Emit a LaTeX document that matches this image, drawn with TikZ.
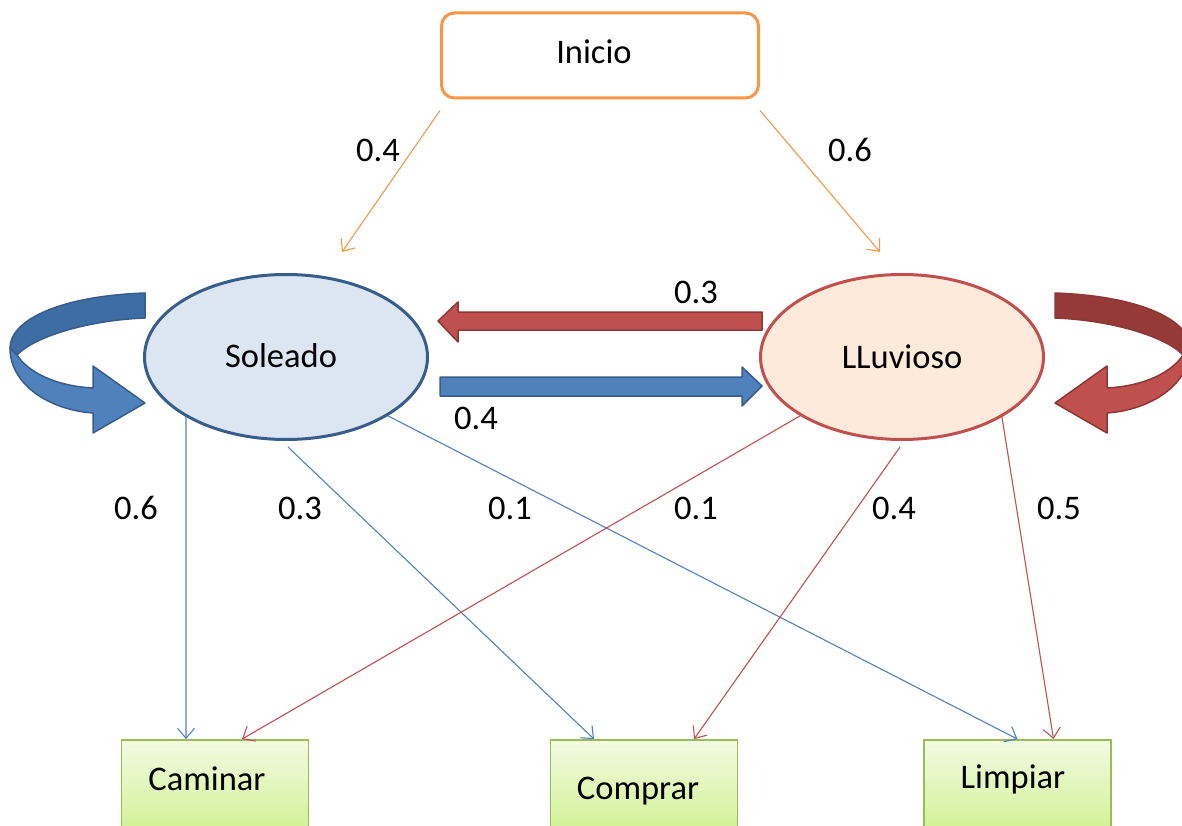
\documentclass[tikz,border=0pt]{standalone}
\usepackage{fontspec}
\setmainfont{Carlito}
\usetikzlibrary{shapes.geometric,arrows.meta}
\definecolor{orangeL}{HTML}{F79646}
\definecolor{blueL}{HTML}{4F81BD}
\definecolor{blueD}{HTML}{385D8A}
\definecolor{blueTop}{HTML}{3E6DA4}
\definecolor{blueFill}{HTML}{DCE6F2}
\definecolor{redL}{HTML}{C0504D}
\definecolor{redD}{HTML}{8C3836}
\definecolor{redTop}{HTML}{963A37}
\definecolor{redFill}{HTML}{FDEADA}
\definecolor{greenS}{HTML}{9BBB59}
\definecolor{greenTop}{HTML}{F3FAE2}
\definecolor{greenBot}{HTML}{D2F296}
\tikzset{
  txt/.style={font=\fontsize{34.5}{40}\selectfont, inner sep=0pt},
  state/.style={ellipse, line width=3pt, minimum width=283pt, minimum height=165pt, inner sep=0pt, txt},
  outbox/.style={draw=greenS, line width=1.8pt, top color=greenTop, bottom color=greenBot,
    minimum width=187pt, minimum height=90pt, inner sep=0pt},
  thin/.style={line width=1.1pt, -{Straight Barb[length=10pt,width=17pt,line width=1.1pt]}},
  blockblue/.style={fill=blueL, draw=blueD, line width=1.5pt, line join=round},
  blockred/.style={fill=redL, draw=redD, line width=1.5pt, line join=round},
}
\begin{document}
\begin{tikzpicture}[x=1pt, y=-1pt]
\useasboundingbox (0,0) rectangle (1182,826);
\clip (0,0) rectangle (1182,826);

% start box
\node[draw=orangeL, line width=3pt, rounded corners=13pt, minimum width=317pt,
      minimum height=85pt, inner sep=0pt, txt] (ini) at (600,55.5) {};
\node[txt] (initxt) at (594,52) {Inicio};

% hidden states
\node[state, draw=blueD, fill=blueFill] (sol) at (286,357) {};
\node[txt] (soltxt) at (281,356) {Soleado};
\node[state, draw=redL, fill=redFill] (llu) at (902,357) {};
\node[txt] (llutxt) at (902,357) {LLuvioso};

% observations
\node[outbox] (cam) at (215,785) {};
\node[outbox] (com) at (644,785) {};
\node[outbox] (lim) at (1017.5,785) {};
\node[txt] (camtxt) at (207,779) {Caminar};
\node[txt] (comtxt) at (638,791) {Comprar};
\node[txt] (limtxt) at (1013,779) {Limpiar};

% initial probabilities
\draw[thin, orangeL] ([yshift=-11pt]ini.south west) -- ([xshift=56pt,yshift=21pt]sol.north);
\draw[thin, orangeL] ([yshift=-11pt]ini.south east) -- ([xshift=-22pt,yshift=21pt]llu.north);
\node[txt] (p1) at (378,150) {0.4};
\node[txt] (p2) at (850,150) {0.6};

% transitions between states
\draw[blockred] (762,312) -- (458,312) -- (458,302) -- (438,321) -- (458,342)
  -- (458,330) -- (762,330) -- cycle;
\draw[blockblue] (440,377) -- (742,377) -- (742,367) -- (762,386) -- (742,406)
  -- (742,396) -- (440,396) -- cycle;
\node[txt] (t1) at (696,292) {0.3};
\node[txt] (t2) at (476,418) {0.4};

% self loop of Soleado
\draw[blockblue] (10,348) .. controls (10,385) and (50,410) .. (93,413) -- (93,433)
  -- (145,403) -- (93,366) -- (93,388) .. controls (55,386) and (28,372) .. (17,355) -- cycle;
\draw[blockblue, fill=blueTop] (145,293) .. controls (60,296) and (10,320) .. (10,348)
  -- (17,355) .. controls (35,336) and (90,320) .. (145,318) -- cycle;

% self loop of LLuvioso
\begin{scope}[xshift=1200pt, xscale=-1]
\draw[blockred] (10,348) .. controls (10,385) and (50,410) .. (93,413) -- (93,433)
  -- (145,403) -- (93,366) -- (93,388) .. controls (55,386) and (28,372) .. (17,355) -- cycle;
\draw[blockred, fill=redTop] (145,293) .. controls (60,296) and (10,320) .. (10,348)
  -- (17,355) .. controls (35,336) and (90,320) .. (145,318) -- cycle;
\end{scope}

% emissions
\draw[thin, blueL] (sol.211) -- ([xshift=-29pt]cam.north);
\draw[thin, blueL] ([xshift=2pt,yshift=-6pt]sol.south) -- ([xshift=-50pt]com.north);
\draw[thin, blueL] (sol.-30) -- (lim.north);
\draw[thin, redL] (llu.210) -- ([xshift=27pt]cam.north);
\draw[thin, redL] ([xshift=-2pt,yshift=-6pt]llu.south) -- ([xshift=50pt]com.north);
\draw[thin, redL] (llu.-31) -- ([xshift=36pt]lim.north);
\node[txt] (e1) at (136,508) {0.6};
\node[txt] (e2) at (300,508) {0.3};
\node[txt] (e3) at (510,508) {0.1};
\node[txt] (e4) at (696,508) {0.1};
\node[txt] (e5) at (894,508) {0.4};
\node[txt] (e6) at (1059,508) {0.5};
\end{tikzpicture}
\end{document}
